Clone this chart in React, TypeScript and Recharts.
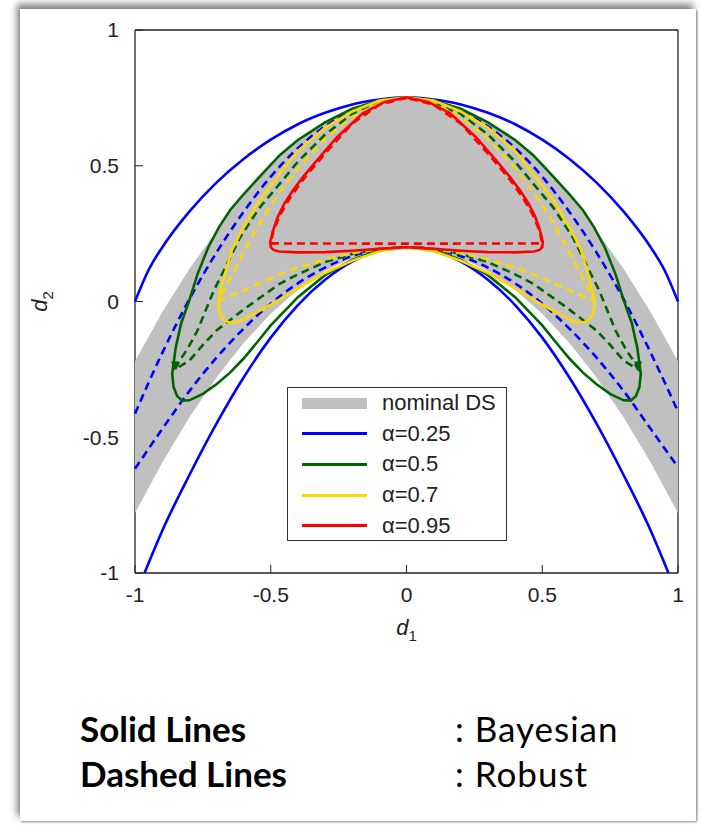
import { ScatterChart, Scatter, XAxis, YAxis, Legend } from 'recharts';

// axis ticks
const TICKS = [-1, -0.5, 0, 0.5, 1];
const TICK_LABELS = ['-1', '-0.5', '0', '0.5', '1'];

// nominal DS band: upper edge left->right, then lower edge right->left
const NOMINAL_DS: [number, number][] = [
  [-1, -0.22], [-0.9, -0.04], [-0.8, 0.12], [-0.7, 0.26], [-0.6, 0.4], [-0.5, 0.51], [-0.4, 0.595],
  [-0.3, 0.66], [-0.2, 0.71], [-0.1, 0.74], [0, 0.752], [0.1, 0.74], [0.2, 0.71], [0.3, 0.66],
  [0.4, 0.595], [0.5, 0.51], [0.6, 0.4], [0.7, 0.26], [0.8, 0.12], [0.9, -0.04], [1, -0.22],
  [1, -0.78], [0.9, -0.594], [0.8, -0.427], [0.7, -0.28], [0.6, -0.153], [0.5, -0.045], [0.4, 0.043],
  [0.3, 0.112], [0.2, 0.161], [0.1, 0.19], [0, 0.2], [-0.1, 0.19], [-0.2, 0.161], [-0.3, 0.112],
  [-0.4, 0.043], [-0.5, -0.045], [-0.6, -0.153], [-0.7, -0.28], [-0.8, -0.427], [-0.9, -0.594], [-1, -0.78],
];

// alpha = 0.25
const BLUE_SOLID_UPPER: [number, number][] = [
  [-1, 0], [-0.95, 0.116], [-0.9, 0.199], [-0.8, 0.331], [-0.7, 0.438], [-0.6, 0.525], [-0.5, 0.596],
  [-0.4, 0.653], [-0.3, 0.695], [-0.2, 0.726], [-0.1, 0.744], [0, 0.752], [0.1, 0.744], [0.2, 0.726],
  [0.3, 0.695], [0.4, 0.653], [0.5, 0.596], [0.6, 0.525], [0.7, 0.438], [0.8, 0.331], [0.9, 0.199],
  [0.95, 0.116], [1, 0],
];
const BLUE_SOLID_LOWER: [number, number][] = [
  [-0.965, -1], [-0.9, -0.845], [-0.8, -0.64], [-0.7, -0.45], [-0.6, -0.28], [-0.5, -0.133],
  [-0.4, -0.013], [-0.3, 0.08], [-0.2, 0.147], [-0.1, 0.187], [0, 0.2], [0.1, 0.187], [0.2, 0.147],
  [0.3, 0.08], [0.4, -0.013], [0.5, -0.133], [0.6, -0.28], [0.7, -0.45], [0.8, -0.64], [0.9, -0.845],
  [0.965, -1],
];
const BLUE_DASHED_UPPER: [number, number][] = [
  [-1, -0.413], [-0.9, -0.19], [-0.8, 0.008], [-0.7, 0.18], [-0.6, 0.33], [-0.5, 0.46], [-0.4, 0.565],
  [-0.3, 0.645], [-0.2, 0.7], [-0.1, 0.738], [0, 0.75], [0.1, 0.738], [0.2, 0.7], [0.3, 0.645],
  [0.4, 0.565], [0.5, 0.46], [0.6, 0.33], [0.7, 0.18], [0.8, 0.008], [0.9, -0.19], [1, -0.405],
];
const BLUE_DASHED_LOWER: [number, number][] = [
  [-1, -0.616], [-0.9, -0.47], [-0.8, -0.33], [-0.7, -0.207], [-0.6, -0.1], [-0.5, -0.008],
  [-0.4, 0.067], [-0.3, 0.125], [-0.2, 0.167], [-0.1, 0.192], [0, 0.2], [0.1, 0.192], [0.2, 0.167],
  [0.3, 0.125], [0.4, 0.067], [0.5, -0.008], [0.6, -0.1], [0.7, -0.207], [0.8, -0.33], [0.9, -0.47],
  [1, -0.61],
];

// alpha = 0.5
const GREEN_SOLID: [number, number][] = [
  [0, 0.752], [-0.1, 0.74], [-0.2, 0.71], [-0.3, 0.66], [-0.4, 0.595], [-0.466, 0.54], [-0.55, 0.45],
  [-0.6, 0.395], [-0.65, 0.336], [-0.69, 0.275], [-0.73, 0.2], [-0.77, 0.1], [-0.8, 0.004], [-0.83, -0.08],
  [-0.85, -0.17], [-0.863, -0.266], [-0.858, -0.315], [-0.845, -0.348], [-0.826, -0.365], [-0.8, -0.364],
  [-0.75, -0.34], [-0.7, -0.305], [-0.65, -0.262], [-0.6, -0.21], [-0.55, -0.15], [-0.5, -0.088],
  [-0.4, 0.016], [-0.3, 0.097], [-0.2, 0.154], [-0.1, 0.189], [0, 0.2], [0.1, 0.189], [0.2, 0.154],
  [0.3, 0.097], [0.4, 0.016], [0.5, -0.088], [0.55, -0.15], [0.6, -0.21], [0.65, -0.262], [0.7, -0.305],
  [0.75, -0.34], [0.8, -0.364], [0.826, -0.365], [0.845, -0.348], [0.858, -0.315], [0.863, -0.266],
  [0.85, -0.17], [0.83, -0.08], [0.8, 0.004], [0.77, 0.1], [0.73, 0.2], [0.69, 0.275], [0.65, 0.336],
  [0.6, 0.395], [0.55, 0.45], [0.466, 0.54], [0.4, 0.595], [0.3, 0.66], [0.2, 0.71], [0.1, 0.74],
  [0, 0.752],
];
const GREEN_DASHED: [number, number][] = [
  [0, 0.75], [-0.1, 0.735], [-0.2, 0.69], [-0.3, 0.615], [-0.4, 0.515], [-0.47, 0.43], [-0.54, 0.347],
  [-0.613, 0.236], [-0.66, 0.14], [-0.71, 0.04], [-0.77, -0.107], [-0.81, -0.18], [-0.834, -0.215],
  [-0.853, -0.25], [-0.8, -0.218], [-0.75, -0.16], [-0.7, -0.107], [-0.59, -0.022], [-0.466, 0.066],
  [-0.4, 0.1], [-0.3, 0.145], [-0.2, 0.175], [-0.1, 0.194], [0, 0.2], [0.1, 0.194], [0.2, 0.175],
  [0.3, 0.145], [0.4, 0.1], [0.466, 0.066], [0.59, -0.022], [0.7, -0.107], [0.75, -0.16], [0.8, -0.218],
  [0.853, -0.25], [0.834, -0.215], [0.81, -0.18], [0.77, -0.107], [0.71, 0.04], [0.66, 0.14],
  [0.613, 0.236], [0.54, 0.347], [0.47, 0.43], [0.4, 0.515], [0.3, 0.615], [0.2, 0.69], [0.1, 0.735],
  [0, 0.75],
];
const GREEN_TIPS: [number, number][] = [[-0.853, -0.25], [0.853, -0.25]];

// alpha = 0.7
const YELLOW_SOLID: [number, number][] = [
  [0, 0.752], [-0.1, 0.74], [-0.2, 0.7], [-0.3, 0.64], [-0.4, 0.555], [-0.477, 0.457], [-0.55, 0.36],
  [-0.613, 0.25], [-0.643, 0.19], [-0.668, 0.103], [-0.685, 0.04], [-0.694, -0.005], [-0.688, -0.045],
  [-0.67, -0.07], [-0.645, -0.08], [-0.62, -0.075], [-0.59, -0.06], [-0.5, -0.012], [-0.4, 0.048],
  [-0.3, 0.105], [-0.2, 0.15], [-0.1, 0.185], [0, 0.2], [0.1, 0.185], [0.2, 0.15], [0.3, 0.105],
  [0.4, 0.048], [0.5, -0.012], [0.59, -0.06], [0.62, -0.075], [0.645, -0.08], [0.67, -0.07],
  [0.688, -0.045], [0.694, -0.005], [0.685, 0.04], [0.668, 0.103], [0.643, 0.19], [0.613, 0.25],
  [0.55, 0.36], [0.477, 0.457], [0.4, 0.555], [0.3, 0.64], [0.2, 0.7], [0.1, 0.74], [0, 0.752],
];
const YELLOW_DASHED: [number, number][] = [
  [0, 0.75], [-0.1, 0.73], [-0.2, 0.68], [-0.3, 0.6], [-0.4, 0.49], [-0.47, 0.4], [-0.528, 0.31],
  [-0.59, 0.2], [-0.64, 0.103], [-0.675, 0.035], [-0.69, 0.004], [-0.613, 0.035], [-0.53, 0.072],
  [-0.466, 0.1], [-0.4, 0.125], [-0.3, 0.155], [-0.2, 0.178], [-0.1, 0.193], [0, 0.2], [0.1, 0.193],
  [0.2, 0.178], [0.3, 0.155], [0.4, 0.125], [0.466, 0.1], [0.53, 0.072], [0.613, 0.035], [0.69, 0.004],
  [0.675, 0.035], [0.64, 0.103], [0.59, 0.2], [0.528, 0.31], [0.47, 0.4], [0.4, 0.49], [0.3, 0.6],
  [0.2, 0.68], [0.1, 0.73], [0, 0.75],
];

// alpha = 0.95
const RED_SOLID: [number, number][] = [
  [0, 0.752], [-0.08, 0.735], [-0.16, 0.694], [-0.256, 0.605], [-0.33, 0.52], [-0.38, 0.46],
  [-0.418, 0.41], [-0.45, 0.36], [-0.475, 0.31], [-0.492, 0.26], [-0.502, 0.22], [-0.5, 0.2],
  [-0.49, 0.19], [-0.47, 0.184], [-0.4, 0.181], [-0.3, 0.182], [-0.2, 0.187], [-0.1, 0.194], [0, 0.2],
  [0.1, 0.194], [0.2, 0.187], [0.3, 0.182], [0.4, 0.181], [0.47, 0.184], [0.49, 0.19], [0.5, 0.2],
  [0.502, 0.22], [0.492, 0.26], [0.475, 0.31], [0.45, 0.36], [0.418, 0.41], [0.38, 0.46], [0.33, 0.52],
  [0.256, 0.605], [0.16, 0.694], [0.08, 0.735], [0, 0.752],
];
const RED_DASHED: [number, number][] = [
  [0, 0.75], [-0.1, 0.725], [-0.2, 0.655], [-0.3, 0.545], [-0.38, 0.45], [-0.43, 0.38], [-0.465, 0.32],
  [-0.49, 0.26], [-0.5, 0.214], [0, 0.213], [0.5, 0.214], [0.49, 0.26], [0.465, 0.32], [0.43, 0.38],
  [0.38, 0.45], [0.3, 0.545], [0.2, 0.655], [0.1, 0.725], [0, 0.75],
];

const LEGEND_LABELS = ['nominal DS', 'α=0.25', 'α=0.5', 'α=0.7', 'α=0.95'];

const GRAY = '#c0c0c0';
const BLUE = '#0000ff';
const GREEN = '#006400';
const YELLOW = '#ffd700';
const RED = '#ff0000';
const LEGEND_COLORS = [GRAY, BLUE, GREEN, YELLOW, RED];
const DASH = '8 5';
const LW = 2.6;
const AXIS_FONT = '"Liberation Sans", Arial, sans-serif';

const pts = (arr: [number, number][]) => arr.map(([x, y]) => ({ x, y }));
const noDot = () => <g />;
const arrowHead = (props: any) => {
  const { cx, cy } = props;
  return <path d={`M${cx - 4},${cy - 8} L${cx + 4},${cy - 8} L${cx},${cy + 1} Z`} fill={GREEN} />;
};

const XName = (props: any) => {
  const { viewBox } = props;
  const cx = viewBox.x + viewBox.width / 2;
  return (
    <text x={cx} y={viewBox.y + 62} textAnchor="middle" fontFamily={AXIS_FONT} fontSize={22} fill="#222">
      <tspan fontStyle="italic">d</tspan>
      <tspan fontSize={15} dy={6}>1</tspan>
    </text>
  );
};

const YName = (props: any) => {
  const { viewBox } = props;
  const cy = viewBox.y + viewBox.height / 2;
  const x = 47;
  return (
    <text x={x} y={cy} textAnchor="middle" transform={`rotate(-90 ${x} ${cy})`} fontFamily={AXIS_FONT} fontSize={22} fill="#222">
      <tspan fontStyle="italic">d</tspan>
      <tspan fontSize={15} dy={6}>2</tspan>
    </text>
  );
};

const LegendBox = () => (
  <div
    style={{
      border: '1.5px solid #333',
      background: '#fff',
      width: 220,
      height: 154,
      boxSizing: 'border-box',
      padding: '0 0 0 14px',
      fontFamily: AXIS_FONT,
      fontSize: 22,
      color: '#222',
      whiteSpace: 'nowrap',
    }}
  >
    {LEGEND_LABELS.map((label, i) => (
      <div key={label} style={{ display: 'flex', alignItems: 'center', height: 30.6 }}>
        <span style={{ display: 'inline-block', flex: 'none', width: 65, height: i === 0 ? 11 : 3, background: LEGEND_COLORS[i], marginRight: 15 }} />
        <span>{label}</span>
      </div>
    ))}
  </div>
);

const tickStyle = { fontFamily: AXIS_FONT, fontSize: 21, fill: '#222' };
const axisLine = { stroke: '#222', strokeWidth: 1.3 };
const tickLine = { stroke: '#222', strokeWidth: 1 };
const fmt = (v: number) => TICK_LABELS[TICKS.indexOf(v)] ?? String(v);

export default function App() {
  const solid = (color: string) => ({ stroke: color, strokeWidth: LW, fill: 'none' });
  const dashed = (color: string) => ({ stroke: color, strokeWidth: LW, fill: 'none', strokeDasharray: DASH });

  return (
    <div style={{ position: 'absolute', left: 0, top: 0, width: 701, height: 826, background: '#fff', overflow: 'hidden' }}>
      <div
        style={{
          position: 'absolute',
          left: 20,
          top: 9,
          width: 676,
          height: 812,
          background: '#fff',
          boxShadow: '-3px -5px 7px rgba(0,0,0,0.5), 1px 1px 2px rgba(0,0,0,0.45)',
        }}
      />
      <div style={{ position: 'absolute', left: 0, top: 0 }}>
        <ScatterChart width={701} height={660} margin={{ top: 29, right: 22, bottom: 27, left: 0 }}>
          <XAxis
            dataKey="x"
            type="number"
            domain={[-1, 1]}
            ticks={TICKS}
            tickFormatter={fmt}
            height={60}
            tick={tickStyle}
            axisLine={axisLine}
            tickLine={tickLine}
            tickSize={-8}
            tickMargin={22}
            label={{ content: XName }}
          />
          <XAxis
            xAxisId="top"
            orientation="top"
            dataKey="x"
            type="number"
            domain={[-1, 1]}
            ticks={TICKS}
            height={1}
            tick={false}
            axisLine={axisLine}
            tickLine={tickLine}
            tickSize={-8}
          />
          <YAxis
            dataKey="y"
            type="number"
            domain={[-1, 1]}
            ticks={TICKS}
            tickFormatter={fmt}
            width={135}
            tick={tickStyle}
            axisLine={axisLine}
            tickLine={tickLine}
            tickSize={-8}
            tickMargin={24}
            label={{ content: YName }}
          />
          <YAxis
            yAxisId="right"
            orientation="right"
            dataKey="y"
            type="number"
            domain={[-1, 1]}
            ticks={TICKS}
            width={1}
            tick={false}
            axisLine={axisLine}
            tickLine={tickLine}
            tickSize={-8}
          />

          <Scatter data={pts(NOMINAL_DS)} line={{ stroke: 'none', fill: GRAY }} shape={noDot} isAnimationActive={false} />

          <Scatter data={pts(BLUE_SOLID_UPPER)} line={solid(BLUE)} lineJointType="monotoneX" shape={noDot} isAnimationActive={false} />
          <Scatter data={pts(BLUE_SOLID_LOWER)} line={solid(BLUE)} lineJointType="monotoneX" shape={noDot} isAnimationActive={false} />
          <Scatter data={pts(BLUE_DASHED_UPPER)} line={dashed(BLUE)} lineJointType="monotoneX" shape={noDot} isAnimationActive={false} />
          <Scatter data={pts(BLUE_DASHED_LOWER)} line={dashed(BLUE)} lineJointType="monotoneX" shape={noDot} isAnimationActive={false} />

          <Scatter data={pts(GREEN_SOLID)} line={solid(GREEN)} shape={noDot} isAnimationActive={false} />
          <Scatter data={pts(GREEN_DASHED)} line={dashed(GREEN)} shape={noDot} isAnimationActive={false} />
          <Scatter data={pts(GREEN_TIPS)} shape={arrowHead} isAnimationActive={false} />

          <Scatter data={pts(YELLOW_SOLID)} line={solid(YELLOW)} shape={noDot} isAnimationActive={false} />
          <Scatter data={pts(YELLOW_DASHED)} line={dashed(YELLOW)} shape={noDot} isAnimationActive={false} />

          <Scatter data={pts(RED_SOLID)} line={solid(RED)} shape={noDot} isAnimationActive={false} />
          <Scatter data={pts(RED_DASHED)} line={dashed(RED)} shape={noDot} isAnimationActive={false} />

          <Legend
            layout="vertical"
            align="center"
            verticalAlign="middle"
            content={LegendBox}
            wrapperStyle={{ left: 287, top: 387, width: 220, height: 154 }}
          />
        </ScatterChart>
      </div>

      <div style={{ position: 'absolute', left: 80, top: 706, fontFamily: 'Lato, sans-serif', fontSize: 35, lineHeight: '45px', color: '#000' }}>
        <div style={{ display: 'flex' }}>
          <span style={{ fontWeight: 700, width: 375 }}>Solid Lines</span>
          <span style={{ letterSpacing: 1 }}>: Bayesian</span>
        </div>
        <div style={{ display: 'flex' }}>
          <span style={{ fontWeight: 700, width: 375 }}>Dashed Lines</span>
          <span style={{ letterSpacing: 1 }}>: Robust</span>
        </div>
      </div>
    </div>
  );
}
